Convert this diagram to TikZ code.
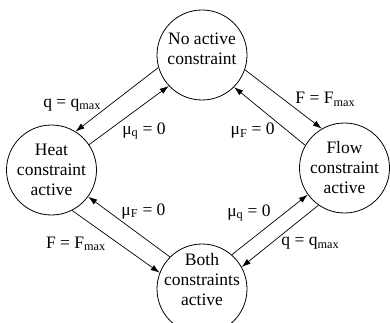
\documentclass[tikz,border=0pt]{standalone}
\usepackage{fontspec}
\setmainfont{Liberation Serif}
\usetikzlibrary{arrows.meta, positioning}

\begin{document}
\begin{tikzpicture}[x=1pt, y=-1pt, >={Latex[length=9pt, width=6pt]},
  phase/.style={circle, draw, line width=0.8pt, minimum size=90pt, inner sep=-6pt, align=center, font=\fontsize{17.5}{20}\selectfont},
  cond/.style={font=\fontsize{17.5}{20}\selectfont, inner sep=1pt}]
  \useasboundingbox (0,0) rectangle (390,323);
  % states
  \node[phase, text depth=12pt] (none) at (202,55) {No active\\constraint};
  \node[phase] (heat) at (51.5,170) {Heat\\constraint\\active};
  \node[phase] (flow) at (344.5,168) {Flow\\constraint\\active};
  \node[phase, text depth=20pt] (both) at (202,289) {Both\\constraints\\active};
  % transitions
  \draw[->, line width=0.7pt] (none.196) -- node[cond, pos=.7, anchor=south east, xshift=2pt] {q = q\textsubscript{max}} (heat.58);
  \draw[->, line width=0.7pt] (heat.34) -- node[cond, pos=.4, anchor=north west] {μ\textsubscript{q} = 0} (none.223);
  \draw[->, line width=0.7pt] (none.341) -- node[cond, pos=.64, anchor=south west] {F = F\textsubscript{max}} (flow.120);
  \draw[->, line width=0.7pt] (flow.150) -- node[cond, pos=.41, anchor=north east] {μ\textsubscript{F} = 0} (none.315);
  \draw[->, line width=0.7pt] (both.135) -- node[cond, pos=.61, anchor=south west] {μ\textsubscript{F} = 0} (heat.324);
  \draw[->, line width=0.7pt] (heat.297) -- node[cond, pos=.4, anchor=north east] {F = F\textsubscript{max}} (both.159);
  \draw[->, line width=0.7pt] (both.49) -- node[cond, pos=.53, anchor=south east] {μ\textsubscript{q} = 0} (flow.216);
  \draw[->, line width=0.7pt] (flow.235) -- node[cond, pos=.5, anchor=north west] {q = q\textsubscript{max}} (both.29);
\end{tikzpicture}
\end{document}
